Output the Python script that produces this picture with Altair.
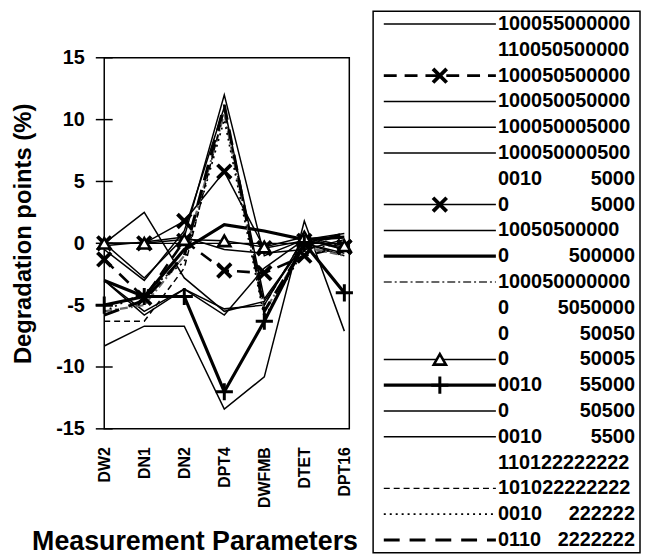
import altair as alt
import pandas as pd

# ---------------- data ----------------
categories = ["DW2", "DN1", "DN2", "DPT4", "DWFMB", "DTET", "DPT16"]
y_ticks = [-15, -10, -5, 0, 5, 10, 15]

legend_labels = [
    "100055000000", "110050500000", "100050500000", "100050050000",
    "100050005000", "100050000500", "0010 5000", "0 5000",
    "10050500000", "0 500000", "100050000000", "0 5050000",
    "0 50050", "0 50005", "0010 55000", "0 50500",
    "0010 5500", "110122222222", "101022222222", "0010 222222",
    "0110 2222222",
]

s00 = [-8.3, -6.7, -6.7, -13.4, -10.8, 1.8, -7.1]
s02 = [-1.3, -4.4, 0.2, -2.2, -2.4, -1.0, -0.3]
s03 = [0.0, -2.8, 0.5, 12.0, -1.0, 0.3, 0.8]
s04 = [-3.0, -5.5, -3.7, -5.3, -5.0, 0.5, -0.5]
s05 = [-0.5, -3.0, 1.0, 11.0, -4.5, 0.0, -0.8]
s07 = [0.0, 0.0, 1.8, 5.8, -0.4, 0.2, -0.3]
s08 = [0.0, 2.5, -2.8, -5.5, -4.7, 0.0, -1.0]
s09 = [-3.0, -4.3, -0.5, 1.5, 1.0, 0.3, 0.5]
s10 = [-5.5, -5.0, -1.0, 10.5, -5.5, -0.3, -1.0]
s13 = [0.0, 0.0, 0.3, 0.2, -0.3, 0.5, -0.2]
s14 = [-5.0, -4.3, -4.3, -12.0, -6.3, 0.0, -4.0]
s15 = [-0.2, 0.1, 0.5, -0.5, -0.8, -0.5, 0.3]
s16 = [-3.0, -5.8, -3.7, -5.8, -2.0, 0.3, -0.5]
s18 = [-6.3, -6.3, -2.0, 10.8, -5.0, 0.5, -0.5]
s19 = [-5.5, -4.0, -1.5, 10.0, -6.0, -0.5, 0.0]
s20 = [-5.8, -4.6, -1.0, 11.2, -5.5, -0.2, 0.8]

series_values = {
    0: s00, 2: s02, 3: s03, 4: s04, 5: s05, 7: s07, 8: s08, 9: s09,
    10: s10, 13: s13, 14: s14, 15: s15, 16: s16, 18: s18, 19: s19, 20: s20,
}

# ---------------- styles ----------------
THIN = 1.5
styles = {
    0: dict(w=THIN),
    2: dict(w=2.6, dash=[13, 8], marker="x"),
    3: dict(w=THIN),
    4: dict(w=THIN),
    5: dict(w=THIN),
    7: dict(w=THIN, marker="x"),
    8: dict(w=THIN),
    9: dict(w=3.2),
    10: dict(w=2.2, dash=[8, 3, 2, 3], color="#666666"),
    13: dict(w=THIN, marker="tri"),
    14: dict(w=3.2, marker="plus"),
    15: dict(w=THIN),
    16: dict(w=THIN),
    18: dict(w=1.5, dash=[6, 4]),
    19: dict(w=1.7, dash=[2, 4]),
    20: dict(w=3.0, dash=[16, 10]),
}

XPATH = "M-1,-1L1,1M-1,1L1,-1"
PLUSPATH = "M-1,0L1,0M0,-1L0,1"
FONT = "Liberation Sans"

rows = []
for i, vals in series_values.items():
    for c, v in zip(categories, vals):
        rows.append({"row": i, "cat": c, "value": v})
df_main = pd.DataFrame(rows)


def line_kwargs(st):
    kw = dict(color=st.get("color", "black"), strokeWidth=st["w"])
    if "dash" in st:
        kw["strokeDash"] = st["dash"]
    return kw


def marker_mark(chart, kind):
    if kind == "x":
        return chart.mark_point(shape=XPATH, filled=False, color="black",
                                strokeWidth=3.8, size=190, opacity=1)
    if kind == "plus":
        return chart.mark_point(shape=PLUSPATH, filled=False, color="black",
                                strokeWidth=3.0, size=300, opacity=1)
    return chart.mark_point(shape="triangle-up", filled=True, fill="white",
                            stroke="black", strokeWidth=2.6, size=150, opacity=1)


# ---------------- main plot ----------------
stagger = "indexof(['DN2','DPT4','DTET'], datum.label) >= 0 ? datum.label + '\u00a0\u00a0\u00a0\u00a0' : datum.label"

X = alt.X(
    "cat:N", sort=categories,
    scale=alt.Scale(type="point", padding=0, range=[0, 242]),
    title="Measurement Parameters",
    axis=alt.Axis(
        labelAngle=-90, labelFontSize=16, labelFontWeight="bold", labelFont=FONT,
        labelColor="black", labelPadding=18, ticks=False, domain=False,
        labelExpr=stagger,
        titleFontSize=27, titleFontWeight="bold", titleFont=FONT, titleColor="black",
        titleX=91, titleY=122, titleBaseline="alphabetic", titleAlign="center",
    ),
)
Y = alt.Y(
    "value:Q",
    scale=alt.Scale(domain=[-15, 15], nice=False, zero=False),
    title="Degradation points (%)",
    axis=alt.Axis(
        values=y_ticks, labelExpr="toString(datum.value)", grid=False, ticks=False,
        domain=False, labelFontSize=20, labelFontWeight="bold", labelFont=FONT,
        labelColor="black", labelPadding=20,
        titleFontSize=24, titleFontWeight="bold", titleFont=FONT, titleColor="black",
        titlePadding=20, titleY=177,
    ),
)

main_layers = []
zero_df = pd.DataFrame({"cat": [categories[0]], "value": [0]})
main_layers.append(alt.Chart(zero_df).mark_rule(color="black", strokeWidth=1.2).encode(y=Y))
tick_df = pd.DataFrame({"cat": [categories[0]] * len(y_ticks), "value": y_ticks})
main_layers.append(
    alt.Chart(tick_df).mark_tick(orient="horizontal", size=17, thickness=1.5, color="black", opacity=1)
    .encode(x=X, y=Y)
)
for i in series_values:
    st = styles[i]
    main_layers.append(
        alt.Chart(df_main).transform_filter(alt.datum.row == i)
        .mark_line(**line_kwargs(st)).encode(x=X, y=Y)
    )
for i in series_values:
    st = styles[i]
    if "marker" in st:
        base = alt.Chart(df_main).transform_filter(alt.datum.row == i)
        main_layers.append(marker_mark(base, st["marker"]).encode(x=X, y=Y))
main = alt.layer(*main_layers)

# ---------------- legend (drawn from the legend arrays) ----------------
LX = alt.X("lx:Q", scale=alt.Scale(domain=[0, 1], range=[271, 540], nice=False, zero=False), axis=None)
LY = alt.Y("row:Q", scale=alt.Scale(domain=[0, 20], range=[-34, 486], nice=False, zero=False), axis=None)

LINE_X0, LINE_X1, MARK_X, TEXT_X0, TEXT_X1 = 0.04, 0.46, 0.25, 0.468, 0.981

leg_layers = []
box_df = pd.DataFrame({"lx": [0.0], "lx2": [1.0], "row": [-0.5], "row2": [20.5]})
leg_layers.append(
    alt.Chart(box_df).mark_rect(fill="white", fillOpacity=0, stroke="black", strokeWidth=1.5)
    .encode(x=LX, x2="lx2:Q", y=LY, y2="row2:Q")
)
for i in series_values:
    st = styles[i]
    seg = pd.DataFrame({"lx": [LINE_X0, LINE_X1], "row": [i, i]})
    leg_layers.append(alt.Chart(seg).mark_line(**line_kwargs(st)).encode(x=LX, y=LY))
for i in series_values:
    st = styles[i]
    if "marker" in st:
        pt = pd.DataFrame({"lx": [MARK_X], "row": [i]})
        leg_layers.append(marker_mark(alt.Chart(pt), st["marker"]).encode(x=LX, y=LY))

left_rows, right_rows = [], []
for i, lab in enumerate(legend_labels):
    parts = lab.split(" ")
    left_rows.append({"row": i, "lx": TEXT_X0, "t": parts[0]})
    if len(parts) > 1:
        right_rows.append({"row": i, "lx": TEXT_X1, "t": parts[1]})
txt_kw = dict(fontSize=20, fontWeight="bold", font=FONT, color="black", baseline="middle")
leg_layers.append(
    alt.Chart(pd.DataFrame(left_rows)).mark_text(align="left", **txt_kw)
    .encode(x=LX, y=LY, text="t:N")
)
leg_layers.append(
    alt.Chart(pd.DataFrame(right_rows)).mark_text(align="right", **txt_kw)
    .encode(x=LX, y=LY, text="t:N")
)
legend = alt.layer(*leg_layers)

chart = (
    alt.layer(main, legend)
    .resolve_scale(x="independent", y="independent")
    .properties(width=247, height=374,
                padding={"left": 4, "top": 0, "right": 0, "bottom": 0},
                background="white")
    .configure(font=FONT)
    .configure_view(stroke="black", strokeWidth=1.5)
)

chart.save("out.html", embed_options={"renderer": "svg", "actions": False})
